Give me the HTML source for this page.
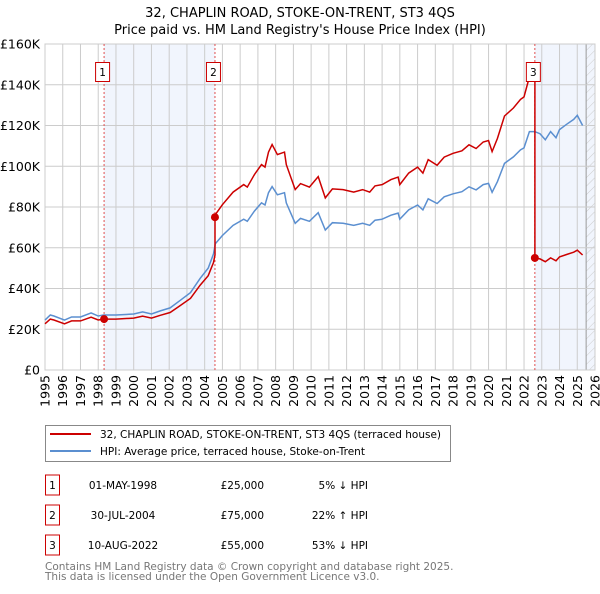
<!DOCTYPE html>
<html><head><meta charset="utf-8"><style>
body{margin:0;background:#fff;font-family:"DejaVu Sans","Liberation Sans",sans-serif;}
svg text{font-family:"DejaVu Sans","Liberation Sans",sans-serif;}
</style></head><body>
<svg id="c" width="600" height="590" xmlns="http://www.w3.org/2000/svg">
<defs><pattern id="hatch" width="6" height="6" patternUnits="userSpaceOnUse" patternTransform="rotate(45)"><line x1="0" y1="0" x2="0" y2="6" stroke="#ccc" stroke-width="1"/></pattern></defs>
<text x="300" y="17" text-anchor="middle" font-size="13">32, CHAPLIN ROAD, STOKE-ON-TRENT, ST3 4QS</text>
<text x="300" y="34" text-anchor="middle" font-size="13">Price paid vs. HM Land Registry's House Price Index (HPI)</text>
<g id="plot"></g>
<rect x="45.5" y="425.5" width="405" height="36" fill="#fff" stroke="#888"/>
<line x1="50" y1="434" x2="91" y2="434" stroke="#cc0000" stroke-width="2"/>
<text x="100" y="438" font-size="10.5">32, CHAPLIN ROAD, STOKE-ON-TRENT, ST3 4QS (terraced house)</text>
<line x1="50" y1="451" x2="91" y2="451" stroke="#5b8fd0" stroke-width="2"/>
<text x="100" y="455" font-size="10.5">HPI: Average price, terraced house, Stoke-on-Trent</text>
<g id="table" font-size="10.5"></g>
<text x="45" y="570" font-size="10.5" fill="#777">Contains HM Land Registry data © Crown copyright and database right 2025.</text>
<text x="45" y="580" font-size="10.5" fill="#777">This data is licensed under the Open Government Licence v3.0.</text>
</svg>
<script>
const yearTicks=[1995,1996,1997,1998,1999,2000,2001,2002,2003,2004,2005,2006,2007,2008,2009,2010,2011,2012,2013,2014,2015,2016,2017,2018,2019,2020,2021,2022,2023,2024,2025,2026];
const priceTicks=[0,20,40,60,80,100,120,140,160];
const hpiYears=[1995.0,1995.3,1995.5,1996.1,1996.5,1997.0,1997.6,1998.0,1998.3,1999.0,2000.0,2000.5,2001.0,2001.5,2002.05,2002.6,2003.2,2003.75,2004.2,2004.5,2004.6,2005.0,2005.6,2006.2,2006.4,2006.8,2007.2,2007.4,2007.6,2007.8,2008.1,2008.5,2008.6,2009.1,2009.4,2009.9,2010.4,2010.8,2011.2,2011.8,2012.4,2012.9,2013.3,2013.6,2014.0,2014.5,2014.9,2015.0,2015.5,2016.0,2016.3,2016.6,2017.1,2017.5,2018.0,2018.5,2018.9,2019.3,2019.7,2020.0,2020.2,2020.5,2020.9,2021.4,2021.8,2022.0,2022.3,2022.6,2022.9,2023.2,2023.5,2023.8,2024.0,2024.4,2024.8,2025.0,2025.3];
const hpiValues=[24.5,27,26.5,24.5,26,26,28,26.5,27,27,27.5,28.5,27.5,29,30.5,34,38,45,50,57,62,66,71,74,73,78,82,81,87,90,86,87,82,72,74.4,73,77.2,68.7,72.3,72,71,72,71,73.5,74,76,77,74,78.6,81,78.6,84,81.7,85,86.5,87.5,89.9,88.4,91,91.6,87.2,92.4,101.4,104.6,108,109,117,117,116,113,117,114,118,120.6,123,125,120];
const saleYears=[1998.33,2004.58,2022.61];
const salePrices=[25,75,55];
const saleLabels=["1","2","3"];
const saleDates=["01-MAY-1998","30-JUL-2004","10-AUG-2022"];
const salePriceText=["£25,000","£75,000","£55,000"];
const saleHpiText=["5% ↓ HPI","22% ↑ HPI","53% ↓ HPI"];

const X0=45,X1=595,Y0=370,Y1=44;
const xs=y=>X0+(y-1995)/(2026-1995)*(X1-X0);
const ys=v=>Y0-v/160*(Y0-Y1);
const NS="http://www.w3.org/2000/svg";
const plot=document.getElementById('plot');
function mk(tag,attrs,parent){const e=document.createElementNS(NS,tag);for(const k in attrs)e.setAttribute(k,attrs[k]);(parent||plot).appendChild(e);return e;}
function hpiAt(t){for(let i=1;i<hpiYears.length;i++){if(t<=hpiYears[i]){const a=hpiYears[i-1],b=hpiYears[i];return hpiValues[i-1]+(hpiValues[i]-hpiValues[i-1])*(t-a)/(b-a);}}return hpiValues[hpiValues.length-1];}

let r=mk('rect',{x:X0,y:Y1,width:X1-X0,height:Y0-Y1,fill:'#fff'});


r=mk('rect',{x:xs(saleYears[0]),y:Y1,width:xs(saleYears[1])-xs(saleYears[0]),height:Y0-Y1,fill:'#eef3fc',opacity:0.8});


r=mk('rect',{x:xs(saleYears[2]),y:Y1,width:X1-xs(saleYears[2]),height:Y0-Y1,fill:'#eef3fc',opacity:0.8});


r=mk('rect',{x:xs(2025.5),y:Y1,width:X1-xs(2025.5),height:Y0-Y1,fill:'url(#hatch)'});


mk('line',{x1:xs(2025.5),y1:Y1,x2:xs(2025.5),y2:Y0,stroke:'#999'});

yearTicks.forEach(y=>{
 const l=mk('line',{x1:xs(y),y1:Y1,x2:xs(y),y2:Y0,stroke:'#ccc'});
 
 
 const t=mk('text',{x:0,y:0,'font-size':12.5,'text-anchor':'end',transform:`translate(${xs(y)+4.5},${Y0+5}) rotate(-90)`});
 t.textContent=y;
 
 
});
priceTicks.forEach(v=>{
 const l=mk('line',{x1:X0,y1:ys(v),x2:X1,y2:ys(v),stroke:'#ccc'});
 
 
 const t=mk('text',{x:X0-5,y:ys(v)+4.5,'font-size':12.5,'text-anchor':'end'});
 t.textContent=v===0?'£0':'£'+v+'K';
 
 
});
mk('rect',{x:X0,y:Y1,width:X1-X0,height:Y0-Y1,fill:'none',stroke:'#ccc'});

saleYears.forEach((s,i)=>{
 const l=mk('line',{x1:xs(s),y1:Y1,x2:xs(s),y2:Y0,stroke:'#e05050','stroke-dasharray':'2,2','stroke-width':1});
 
 
});

const hp=hpiYears.map((y,i)=>`${i?'L':'M'}${xs(y).toFixed(1)},${ys(hpiValues[i]).toFixed(1)}`).join('');
const hpiPath=mk('path',{d:hp,fill:'none',stroke:'#5b8fd0','stroke-width':1.5});



const ratios=saleYears.map((s,i)=>salePrices[i]/hpiAt(s));
let pts=[];
function ratioAt(t){let k=0;for(let i=0;i<saleYears.length;i++)if(t>=saleYears[i])k=i;return ratios[k];}
let ts=hpiYears.concat(saleYears).sort((a,b)=>a-b);
ts.forEach(t=>{
 saleYears.forEach((s,i)=>{if(i>0&&Math.abs(t-s)<1e-9)pts.push([t,hpiAt(t)*ratios[i-1]]);});
 pts.push([t,hpiAt(t)*ratioAt(t)]);
});
const pp=pts.map((p,i)=>`${i?'L':'M'}${xs(p[0]).toFixed(1)},${ys(p[1]).toFixed(1)}`).join('');
const propPath=mk('path',{d:pp,fill:'none',stroke:'#cc0000','stroke-width':1.5});



saleYears.forEach((s,i)=>{
 const c=mk('circle',{cx:xs(s),cy:ys(salePrices[i]),r:4,fill:'#cc0000'});
 
 
 const b=mk('rect',{x:xs(s)-8.5,y:62.5,width:14,height:19,fill:'#fff',stroke:'#cc0000'});
 
 
 const t=mk('text',{x:xs(s)-1.5,y:76,'font-size':10.5,'text-anchor':'middle'});
 t.textContent=saleLabels[i];
 
 
});

const tb=document.getElementById('table');
saleLabels.forEach((lab,i)=>{
 const y=485+i*30;
 const b=mk('rect',{x:45.5,y:y-10,width:14,height:20,fill:'#fff',stroke:'#cc0000'},tb);
 
 
 const cells=[[52.5,lab,'middle'],[123,saleDates[i],'middle'],[264,salePriceText[i],'end'],[368,saleHpiText[i],'end']];
 cells.forEach((c,j)=>{
  const t=mk('text',{x:c[0],y:y+4,'text-anchor':c[2]},tb);
  t.textContent=c[1];
  
  
 });
});
</script>
</body></html>
